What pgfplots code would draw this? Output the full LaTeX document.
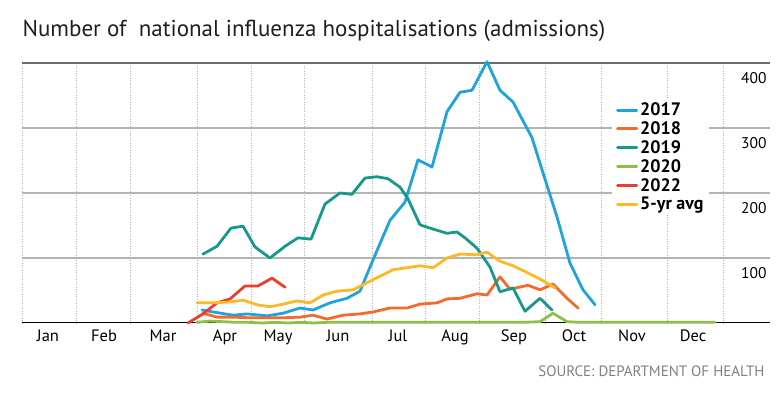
\documentclass[border=0pt]{standalone}
\usepackage{fontspec}
\setmainfont{PT Sans}
\usepackage{pgfplots}
\pgfplotsset{compat=1.18}
\definecolor{c17}{HTML}{1FA3E0}
\definecolor{c18}{HTML}{F26B2C}
\definecolor{c19}{HTML}{16998B}
\definecolor{c20}{HTML}{8DC04A}
\definecolor{c22}{HTML}{E8412B}
\definecolor{cavg}{HTML}{FDB82A}
\definecolor{gridc}{HTML}{B4B4B4}
\begin{document}
\begin{tikzpicture}
\begin{axis}[
  scale only axis, width=748pt, height=260pt,
  xmin=22, xmax=770, ymin=0, ymax=400,
  clip=false,
  axis line style={draw=none},
  major tick length=0pt,
  xtick={48,104,163,225,278,338,398,455,514,574,632,693},
  xticklabels={Jan,Feb,Mar,Apr,May,Jun,Jul,Aug,Sep,Oct,Nov,Dec},
  xticklabel style={font=\fontsize{16.5}{16.5}\selectfont, yshift=-3pt},
  extra x ticks={23,76,130,197,251,304,372,425,479,545,601,667,723},
  extra x tick labels={},
  extra x tick style={grid=major, major grid style={gray!60, dotted, line width=1pt}},
  ytick={100,200,300,400},
  ymajorgrids,
  y grid style={gridc, line width=1.3pt},
  yticklabel pos=right,
  yticklabel style={anchor=north east, yshift=-6pt, font=\fontsize{15.5}{15.5}\selectfont},
  /pgf/number format/assume math mode=true,
  legend style={at={(axis cs:612,345)}, anchor=north west, draw=none, fill=white,
    font=\fontsize{18}{18}\selectfont\bfseries, row sep=0.5pt, inner sep=2pt, inner xsep=4pt},
  legend cell align=left,
  legend image code/.code={\draw[line width=3pt] (0pt,0pt) -- (19pt,0pt);},
  every axis plot/.append style={line width=2.8pt, line join=round, line cap=round},
]
\draw[gray!85!black, line width=1.6pt] (axis cs:22,400) -- (axis cs:770,400);
\draw[black, line width=1pt] (axis cs:22,0) -- (axis cs:770,0);

% 2017
\addplot[c17] coordinates {
(202,20) (213,17) (233,12) (247,14) (267,11) (283,15) (300,23) (313,20)
(330,31) (347,38) (360,49) (373,97) (390,158) (405,186) (418,251) (432,240)
(447,325) (460,355) (472,358) (487,402) (500,358) (513,340) (532,285)
(543,231) (557,163) (570,92) (583,51) (595,28)};
\addlegendentry{2017}
% 2018
\addplot[c18] coordinates {
(203,15) (217,9) (233,9) (250,8) (267,8) (283,8) (300,9) (313,12) (327,6)
(343,12) (360,14) (373,17) (390,23) (407,23) (420,29) (437,31) (447,37)
(460,38) (477,45) (487,43) (500,71) (510,52) (528,58) (540,51) (553,60)
(567,38) (578,23)};
\addlegendentry{2018}
% 2019
\addplot[c19] coordinates {
(203,106) (217,118) (231,146) (243,149) (255,117) (270,100) (285,118)
(298,131) (311,129) (325,183) (340,200) (352,198) (365,223) (377,225)
(388,222) (400,209) (408,191) (420,151) (432,145) (447,138) (457,140)
(465,131) (477,115) (490,86) (500,48) (513,54) (525,18) (540,38) (552,20)};
\addlegendentry{2019}
% 2020
\addplot[c20] coordinates {
(197,1) (210,3) (223,2) (236,1) (249,1) (262,0) (275,1) (288,0) (301,1)
(314,0) (327,1) (340,1) (353,1) (366,1) (379,1) (392,1) (405,1) (418,1)
(431,1) (444,1) (457,1) (470,1) (483,1) (496,1) (509,1) (522,1) (540,2)
(553,15) (567,2) (580,1) (593,1) (606,1) (619,1) (632,1) (645,1) (658,1)
(671,1) (684,1) (697,1) (715,1)};
\addlegendentry{2020}
% 2022
\addplot[c22] coordinates {
(188,0) (203,14) (217,31) (230,37) (245,57) (258,57) (272,69) (285,55)};
\addlegendentry{2022}
% 5-yr avg
\addplot[cavg] coordinates {
(197,31) (210,31) (227,32) (243,35) (257,28) (270,25) (283,29) (297,34)
(310,31) (323,43) (337,49) (353,51) (367,62) (380,72) (393,82) (407,85)
(420,88) (433,85) (447,100) (460,106) (477,105) (487,109) (500,95) (513,88)
(528,77) (542,66) (555,54)};
\addlegendentry{5-yr avg}

\node[anchor=base west, font=\fontsize{23}{23}\selectfont, text=black!88] at (axis cs:19,440) {Number of\ \ national influenza hospitalisations (admissions)};
\node[anchor=base east, font=\fontsize{15}{15}\selectfont, text=gray] at (axis cs:768,-83) {SOURCE: DEPARTMENT OF HEALTH};

\coordinate (bl) at (axis cs:0,-109.23);
\coordinate (tr) at (axis cs:783,496.92);
\end{axis}
\pgfresetboundingbox
\useasboundingbox (bl) rectangle (tr);
\end{tikzpicture}
\end{document}
